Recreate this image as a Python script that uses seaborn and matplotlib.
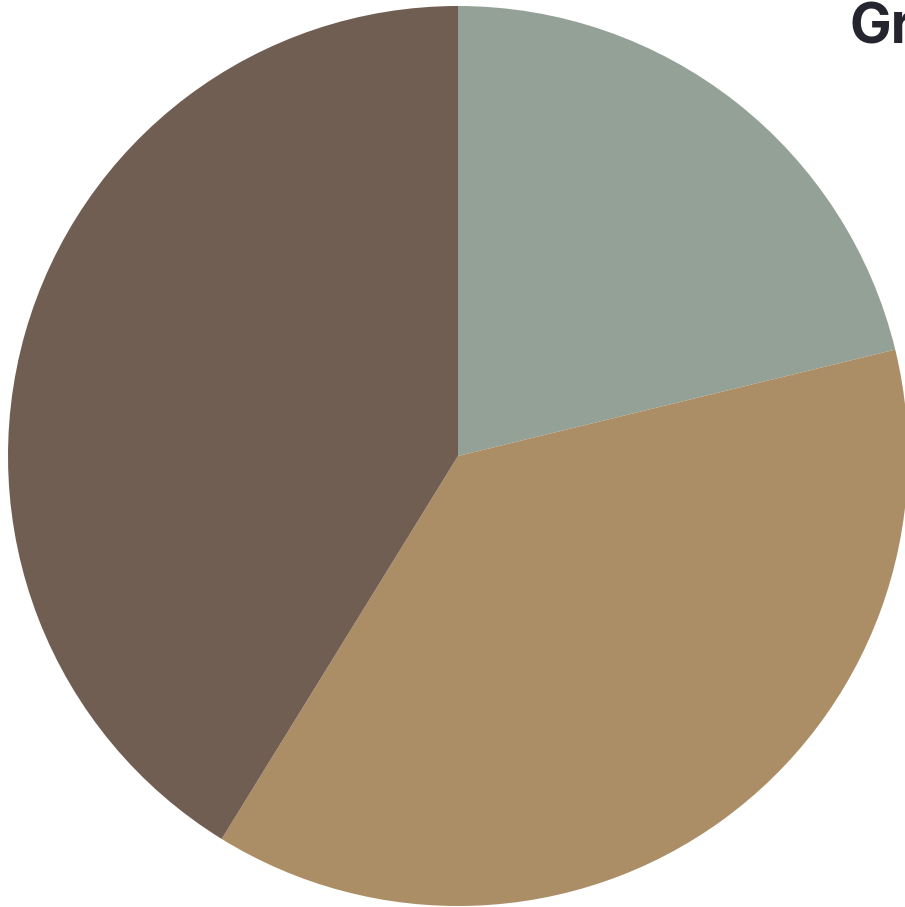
import numpy as np
import seaborn as sns
import matplotlib.pyplot as plt

# slice data, clockwise from 12 o'clock
labels = ['A', 'B', 'C']
shares = [21.2, 37.6, 41.2]
colors = ['#94a197', '#ac8e66', '#715e53']
title_text = 'Group'

sns.set_theme(style='white')
plt.rcParams['font.family'] = ['Inter', 'DejaVu Sans']

fig = plt.figure(figsize=(9.05, 9.07), dpi=100)
ax = fig.add_axes([0, 0, 1, 1])
ax.pie(shares, colors=colors, startangle=90, counterclock=False,
       radius=1, wedgeprops=dict(linewidth=0))
ax.set_aspect('auto')
# pie centre at px (458, 456), radius 450 px
ax.set_xlim(-458 / 450, (905 - 458) / 450)
ax.set_ylim(-(907 - 456) / 450, 456 / 450)
ax.axis('off')

fig.text(849 / 905, 1 - 1 / 907, title_text, ha='left', va='top',
         fontsize=40, fontweight='bold', color='#25252f')

fig.savefig('out.png', dpi=100, facecolor='white')
